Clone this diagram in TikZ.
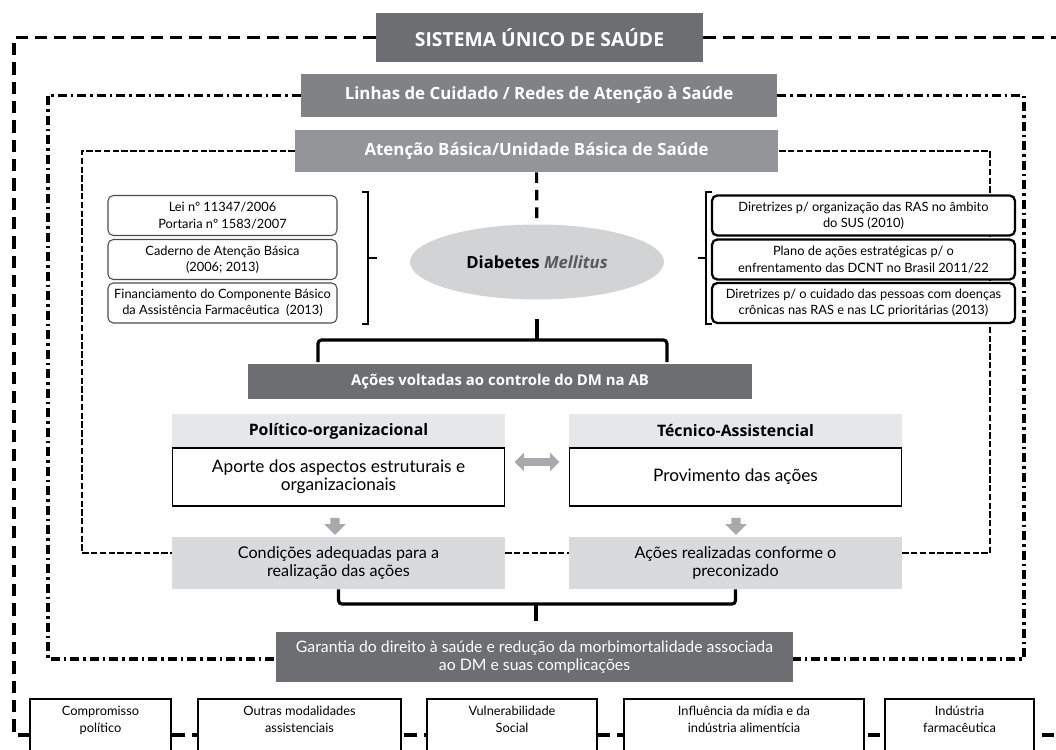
\documentclass[tikz,border=0pt]{standalone}
\usepackage{fontspec}
\setmainfont{Lato}
\newfontfamily\headfont{Open Sans}
\usetikzlibrary{shapes.geometric,shapes.arrows,calc,backgrounds}

\definecolor{susgray}{HTML}{6D6E71}
\definecolor{rasgray}{HTML}{808285}
\definecolor{abgray}{HTML}{939598}
\definecolor{dmgray}{HTML}{D1D3D4}
\definecolor{headgray}{HTML}{E6E7E8}
\definecolor{condgray}{HTML}{D9DADB}
\definecolor{arrowgray}{HTML}{A7A9AC}
\definecolor{italgray}{HTML}{58595B}

\begin{document}
\begin{tikzpicture}[x=0.02cm, y=-0.02cm,
  title/.style = {fill=#1, text=white, inner sep=0, font=\headfont\bfseries\fontsize{9.6}{12}\selectfont},
  doc/.style = {draw=#1, fill=white, rounded corners=3pt, align=center, inner sep=0,
    minimum height=0.8cm, font=\fontsize{7.3}{9.2}\selectfont},
  head/.style = {fill=headgray, minimum width=6.66cm, minimum height=0.68cm, inner sep=0,
    font=\headfont\bfseries\fontsize{9}{10}\selectfont},
  body/.style = {draw, line width=0.6pt, fill=white, minimum width=6.66cm, minimum height=1.16cm,
    inner sep=0, align=center, font=\fontsize{9.8}{10}\selectfont},
  result/.style = {fill=condgray, minimum width=6.66cm, minimum height=1.04cm, inner sep=0,
    align=center, font=\fontsize{9.2}{10}\selectfont},
  factor/.style = {draw, fill=white, line width=1.2pt, anchor=north, inner sep=0, align=center,
    text height=19pt, text depth=22pt, font=\fontsize{7.3}{9.6}\selectfont},
  downarrow/.style = {single arrow, fill=arrowgray, inner sep=0.085cm, minimum height=0.34cm,
    single arrow head extend=0.12cm, shape border rotate=270},
  susline/.style = {line width=2pt, dash pattern=on 7pt off 4pt},
  rasline/.style = {line width=1.8pt, dash pattern=on 5pt off 2.3pt on 1.5pt off 2.3pt},
  abline/.style = {line width=1.5pt, dash pattern=on 3.6pt off 1.4pt},
  brace/.style = {line width=1.8pt, rounded corners=2pt},
  bracket/.style = {line width=1.2pt}]

	\clip (0,0) rectangle (1056,750);

	% niveis
	\node[title=susgray, minimum width=6.54cm, minimum height=0.98cm,
	  font=\headfont\bfseries\fontsize{11}{13}\selectfont] (sus) at (539.5, 37.5) {SISTEMA ÚNICO DE SAÚDE};
	\node[title=rasgray, minimum width=9.52cm, minimum height=0.86cm] (linhas) at (539, 95.5)
	  {Linhas de Cuidado / Redes de Atenção à Saúde};
	\node[title=abgray, minimum width=9.66cm, minimum height=0.84cm] (atencao) at (536.5, 151)
	  {Atenção Básica/Unidade Básica de Saúde};

	\node[ellipse, fill=dmgray, minimum width=5.08cm, minimum height=1.5cm, inner sep=0,
	  font=\headfont\bfseries\fontsize{9.5}{11}\selectfont] (diab) at (537, 262)
	  {Diabetes \textcolor{italgray}{\itshape Mellitus}};

	% documentos
	\node[doc=black!70, line width=0.6pt, minimum width=4.58cm] (ld1) at (222.5, 215.5)
	  {Lei nº 11347/2006\\Portaria nº 1583/2007};
	\node[doc=black!70, line width=0.6pt, minimum width=4.58cm] (ld2) at (222.5, 259.5)
	  {Caderno de Atenção Básica\\(2006; 2013)};
	\node[doc=black!70, line width=0.6pt, minimum width=4.58cm] (ld3) at (222.5, 303)
	  {Financiamento do Componente Básico\\da Assistência Farmacêutica\ \ (2013)};

	\node[doc=black, line width=1.3pt, minimum width=6.06cm] (rd1) at (863.5, 215.5)
	  {Diretrizes p/ organização das RAS no âmbito\\do SUS (2010)};
	\node[doc=black, line width=1.3pt, minimum width=6.06cm] (rd2) at (863.5, 259.5)
	  {Plano de ações estratégicas p/ o\\enfrentamento das DCNT no Brasil 2011/22};
	\node[doc=black, line width=1.3pt, minimum width=6.06cm] (rd3) at (863.5, 303)
	  {Diretrizes p/ o cuidado das pessoas com doenças\\crônicas nas RAS e nas LC prioritárias (2013)};

	\draw[bracket] (362, 192) -| (368, 324) -- (362, 324);
	\draw[bracket] (368, 258) -- (377, 258);
	\draw[bracket] (712, 192) -| (706, 324) -- (712, 324);
	\draw[bracket] (706, 258) -- (698, 258);

	% acoes
	\node[title=susgray, minimum width=10.08cm, minimum height=0.7cm,
	  font=\headfont\bfseries\fontsize{8.5}{11}\selectfont] (acoes) at (500, 381.5)
	  {Ações voltadas ao controle do DM na AB};

	\node[head] (polhead) at (338.5, 431) {Político-organizacional};
	\node[body] (polbody) at (338.5, 477) {Aporte dos aspectos estruturais e\\organizacionais};
	\node[head] (techead) at (735.5, 431) {Técnico-Assistencial};
	\node[body] (tecbody) at (735.5, 477) {Provimento das ações};

	\node[double arrow, fill=arrowgray, inner sep=0.07cm, minimum height=0.9cm,
	  double arrow head extend=0.11cm] (troca) at (537, 462) {};

	\node[result] (cond) at (338.5, 563) {Condições adequadas para a\\realização das ações};
	\node[result] (realiz) at (735.5, 563) {Ações realizadas conforme o\\preconizado};

	\node[downarrow] (seta1) at (335, 524) {};
	\node[downarrow] (seta2) at (736, 524) {};

	\node[title=susgray, minimum width=10.34cm, minimum height=1cm, align=center,
	  font=\fontsize{9}{9.8}\selectfont] (garantia) at (534.5, 657)
	  {Garantia do direito à saúde e redução da morbimortalidade associada\\ao DM e suas complicações};

	% fatores
	\node[factor, minimum width=2.82cm] (f1) at (100.5, 698) {Compromisso\\político};
	\node[factor, minimum width=4.06cm] (f2) at (299.5, 698) {Outras modalidades\\assistenciais};
	\node[factor, minimum width=3.4cm] (f3) at (512, 698) {Vulnerabilidade\\Social};
	\node[factor, minimum width=4.8cm] (f4) at (744, 698) {Influência da mídia e da\\indústria alimentícia};
	\node[factor, minimum width=2.98cm] (f5) at (959.5, 698) {Indústria\\farmacêutica};

	\coordinate (tipA) at (537, 340);
	\coordinate (tipA2) at (537, 319);
	\coordinate (tipB) at (536, 604);
	\coordinate (tipB2) at (536, 621);

	\draw[brace] (318, 362) |- (tipA) -| (667, 362);
	\draw[brace] (tipA) -- (tipA2);
	\draw[brace] (cond.south) |- (tipB) -| (realiz.south);
	\draw[brace] (tipB) -- (tipB2);

	\begin{scope}[on background layer]
	\draw[susline] (sus.west) -| (14, 735) -- (1056, 735);
	\draw[susline] (sus.east) -- (1056, 37.5);
	\draw[rasline] (linhas.west) -| (48, 659) -- (garantia.west |- 0,659);
	\draw[rasline] (linhas.east) -| (1024, 659) -- (garantia.east |- 0,659);
	\draw[abline] (atencao.west) -| (82, 553) -- (cond.west |- 0,553);
	\draw[abline] (cond.east |- 0,553) -- (realiz.west |- 0,553);
	\draw[abline] (realiz.east |- 0,553) -| (990, 151) -- (atencao.east);
	\draw[line width=1.8pt, dash pattern=on 6pt off 4pt] (atencao) -- (diab);
	\end{scope}

\end{tikzpicture}
\end{document}
